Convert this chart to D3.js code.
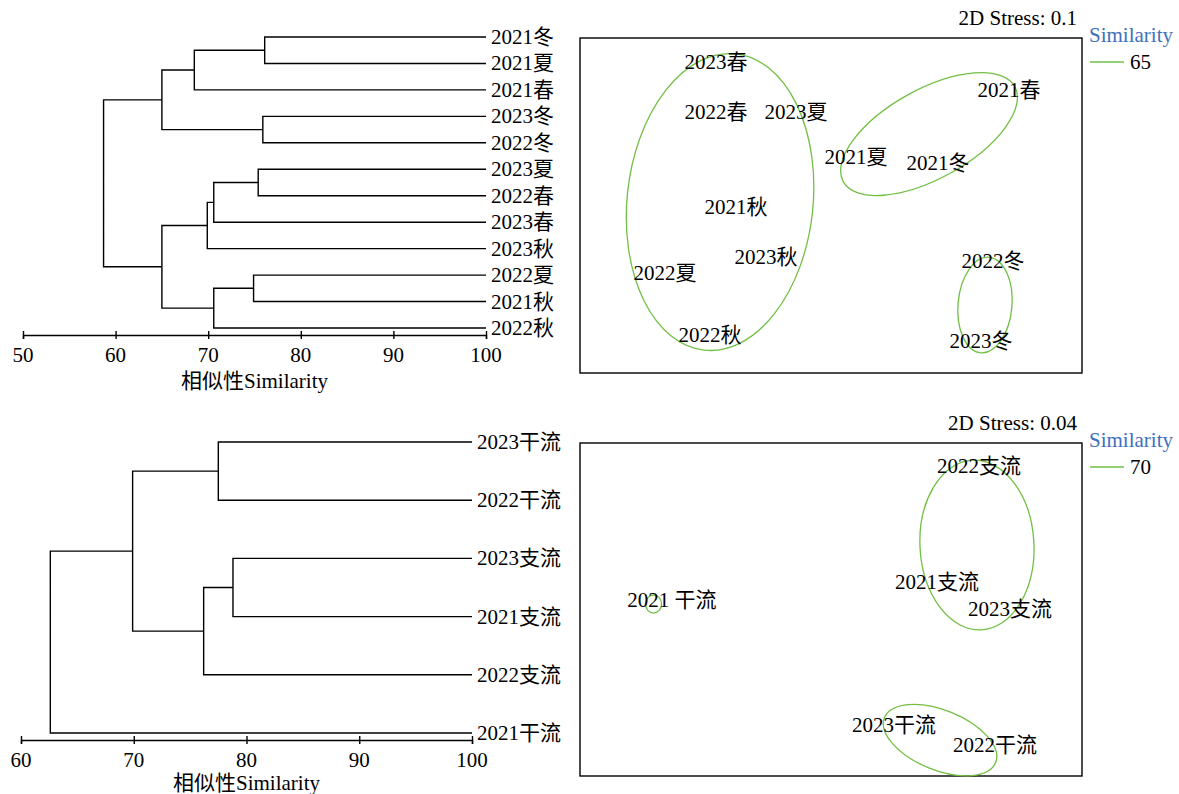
<!DOCTYPE html>
<html><head><meta charset="utf-8">
<script src="https://cdn.jsdelivr.net/npm/d3@7"></script>
<style>
body{margin:0;background:#fff;}
svg{font-family:"Liberation Serif","Noto Sans CJK SC",serif;}
</style></head>
<body><svg id="c" width="1179" height="794"></svg>
<script>
// ---------- DATA ----------
// Dendrogram 1 (seasons)
const topLeaves = ["2021冬","2021夏","2021春","2023冬","2022冬","2023夏","2022春","2023春","2023秋","2022夏","2021秋","2022秋"];
// merges: [childA, childB, similarity]; index >= leaves.length refers to an earlier merge
const topMerges = [[0,1,76.1],[12,2,68.5],[3,4,75.9],[13,14,65.0],[5,6,75.4],[16,7,70.6],[17,8,69.9],[9,10,74.9],[19,11,70.6],[18,20,65.0],[15,21,58.7]];
const topTicks = [50,60,70,80,90,100];
// Dendrogram 2 (main/tributary)
const botLeaves = ["2023干流","2022干流","2023支流","2021支流","2022支流","2021干流"];
const botMerges = [[0,1,77.5],[2,3,78.8],[7,4,76.2],[6,8,69.9],[9,5,62.6]];
const botTicks = [60,70,80,90,100];

// NMDS 1
const nmds1Labels = ["2023春","2022春","2023夏","2021春","2021夏","2021冬","2021秋","2023秋","2022夏","2022冬","2022秋","2023冬"];
const nmds1X = [-0.916,-0.916,-0.279,1.418,0.199,0.853,-0.757,-0.518,-1.323,1.291,-0.964,1.195];
const nmds1Y = [1.199,0.781,0.781,0.965,0.405,0.355,-0.013,-0.431,-0.565,-0.465,-1.083,-1.133];
// similarity contours: centre x, centre y, semi-axis a, semi-axis b, rotation (deg)
const nmds1EllCX = [-0.884,0.781,1.227];
const nmds1EllCY = [0.029,0.597,-0.832];
const nmds1EllA = [0.741,0.781,0.215];
const nmds1EllB = [1.187,0.355,0.382];
const nmds1EllRot = [6,-29,5];
const nmds1Stress = "2D Stress: 0.1";
const nmds1Level = "65";

// NMDS 2
const nmds2Labels = ["2022支流","2021支流","2023支流","2021 干流","2023干流","2022干流"];
const nmds2X = [1.179,0.845,1.426,-1.267,0.502,1.307];
const nmds2Y = [1.207,0.231,0.004,0.080,-0.972,-1.140];
const nmds2EllCX = [-1.414,1.163,0.869];
const nmds2EllCY = [0.046,0.542,-1.098];
const nmds2EllA = [0.064,0.454,0.478];
const nmds2EllB = [0.072,0.677,0.239];
const nmds2EllRot = [0,-3,22];
const nmds2Stress = "2D Stress: 0.04";
const nmds2Level = "70";

// ---------- DRAW ----------
const svg = d3.select("#c");
const FS = 21;
const green = "#72bf44";
const blue = "#3f6fbf";

function dendro(leaves, merges, ticks, xRange, yRange, axisY, labelY){
  const x = d3.scaleLinear().domain([ticks[0], ticks[ticks.length-1]]).range(xRange);
  const y = d3.scalePoint().domain(leaves).range(yRange);
  const nodes = leaves.map(l => ({x: x(ticks[ticks.length-1]), y: y(l)}));
  const g = svg.append("g");
  const path = [];
  merges.forEach(([a,b,s]) => {
    const A = nodes[a], B = nodes[b], xs = x(s);
    path.push(`M${A.x},${A.y}H${xs}V${B.y}H${B.x}`);
    nodes.push({x: xs, y: (A.y+B.y)/2});
  });
  g.append("path").attr("d", path.join("")).attr("fill","none").attr("stroke","#000").attr("stroke-width",1.4);
  g.selectAll("text.leaf").data(leaves).join("text")
    .attr("x", x(ticks[ticks.length-1]) + 5).attr("y", d => y(d))
    .attr("dominant-baseline","central").attr("font-size",FS).text(d => d);
  const ax = svg.append("g").attr("transform",`translate(0,${axisY})`)
    .call(d3.axisBottom(x).tickValues(ticks).tickSizeOuter(0).tickSize(4).tickFormat(""));
  ax.select(".domain").attr("stroke-width",1.4);
  ax.selectAll(".tick line").attr("y1",-4).attr("y2",4).attr("stroke-width",1.4);
  // tick labels as plain text elements (same font as the rest)
  svg.selectAll(null).data(ticks).join("text")
    .attr("x", d => x(d)).attr("y", axisY + 20)
    .attr("text-anchor","middle").attr("dominant-baseline","central")
    .attr("font-size",FS).text(d => d);
  svg.append("text").attr("x",(xRange[0]+xRange[1])/2).attr("y",labelY)
    .attr("text-anchor","middle").attr("dominant-baseline","central").attr("font-size",FS)
    .text("相似性Similarity");
}

dendro(topLeaves, topMerges, topTicks, [23,486], [37,328], 335, 381);
dendro(botLeaves, botMerges, botTicks, [21,472], [442,733], 740, 783);

function nmds(labels, xs, ys, ecx, ecy, ea, eb, er, stress, level, box){
  const [x0,y0,x1,y1] = box;
  const x = d3.scaleLinear().domain([-2,2]).range([x0,x1]);
  const y = d3.scaleLinear().domain([-1.4,1.4]).range([y1,y0]);
  const k = x(1)-x(0);
  svg.append("rect").attr("x",x0).attr("y",y0).attr("width",x1-x0).attr("height",y1-y0)
    .attr("fill","none").attr("stroke","#000").attr("stroke-width",1.4);
  svg.append("text").attr("x",x1-5).attr("y",y0-20).attr("text-anchor","end")
    .attr("dominant-baseline","central").attr("font-size",FS).text(stress);
  svg.selectAll(null).data(ecx).join("ellipse")
    .attr("cx",0).attr("cy",0)
    .attr("rx",(d,i)=>ea[i]*k).attr("ry",(d,i)=>eb[i]*k)
    .attr("transform",(d,i)=>`translate(${x(d)},${y(ecy[i])}) rotate(${er[i]})`)
    .attr("fill","none").attr("stroke",green).attr("stroke-width",1.3);
  svg.selectAll(null).data(labels).join("text")
    .attr("x",(d,i)=>x(xs[i])).attr("y",(d,i)=>y(ys[i]))
    .attr("text-anchor","middle").attr("dominant-baseline","central")
    .attr("font-size",FS).text(d=>d);
  svg.append("text").attr("x",x1+7).attr("y",y0-3).attr("dominant-baseline","central")
    .attr("font-size",FS).attr("fill",blue).text("Similarity");
  svg.append("line").attr("x1",x1+8).attr("x2",x1+42).attr("y1",y0+24).attr("y2",y0+24)
    .attr("stroke",green).attr("stroke-width",1.4);
  svg.append("text").attr("x",x1+48).attr("y",y0+24).attr("dominant-baseline","central")
    .attr("font-size",FS).text(level);
}

nmds(nmds1Labels, nmds1X, nmds1Y, nmds1EllCX, nmds1EllCY, nmds1EllA, nmds1EllB, nmds1EllRot, nmds1Stress, nmds1Level, [580,38,1082,373]);
nmds(nmds2Labels, nmds2X, nmds2Y, nmds2EllCX, nmds2EllCY, nmds2EllA, nmds2EllB, nmds2EllRot, nmds2Stress, nmds2Level, [580,443,1082,776]);
</script></body></html>
